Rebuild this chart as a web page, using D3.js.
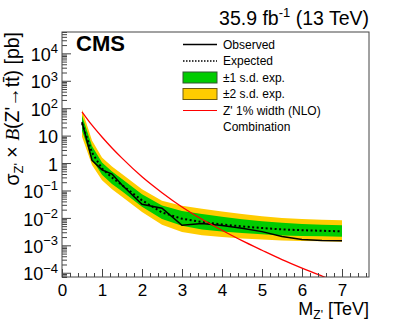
<!DOCTYPE html>
<html><head><meta charset="utf-8">
<script src="https://cdn.jsdelivr.net/npm/d3@7/dist/d3.min.js"></script>
<style>
body{margin:0;background:#fff;}
svg{font-family:"Liberation Sans",Arial,Helvetica,sans-serif;}
</style></head>
<body><svg id="c" width="411" height="326"></svg>
<script>
// ---- data (pb) ----
const masses   = [0.5, 0.75, 1, 1.25, 1.5, 2, 2.5, 3, 3.5, 4, 4.5, 5, 5.5, 6, 6.5, 7];
const observed = [31.6, 1.26, 0.562, 0.398, 0.158, 0.0316, 0.0224, 0.00537, 0.00631, 0.00525, 0.00417, 0.00316, 0.00209, 0.00162, 0.00151, 0.00148];
const expected = [28.2, 2.40, 0.631, 0.295, 0.158, 0.0437, 0.0158, 0.00933, 0.00708, 0.00575, 0.0049, 0.00427, 0.0038, 0.00355, 0.00339, 0.00324];
const plus1    = [53.7, 4.17, 1.05, 0.490, 0.262, 0.0725, 0.0281, 0.0178, 0.0138, 0.0110, 0.00892, 0.00759, 0.00660, 0.00603, 0.00563, 0.00538];
const minus1   = [15.1, 1.38, 0.372, 0.174, 0.0931, 0.0257, 0.00909, 0.00513, 0.00380, 0.00316, 0.00282, 0.00252, 0.00229, 0.00219, 0.00214, 0.00204];
const plus2    = [89.2, 6.61, 1.59, 0.741, 0.397, 0.110, 0.0425, 0.0275, 0.0214, 0.0170, 0.0138, 0.0115, 0.00999, 0.00912, 0.00852, 0.00814];
const minus2   = [9.14, 0.852, 0.235, 0.110, 0.0588, 0.0163, 0.00561, 0.00309, 0.00234, 0.00200, 0.00178, 0.00162, 0.00151, 0.00144, 0.00141, 0.00135];
const theory   = [74.1, 24.0, 8.91, 3.55, 1.51, 0.316, 0.0832, 0.0251, 0.00891, 0.00355, 0.00148, 0.000661, 0.000302, 0.000148, 0.0000759, 0.0000398];
const xTicks = [0, 1, 2, 3, 4, 5, 6, 7];
const yTickExps = [-4, -3, -2, -1, 0, 1, 2, 3, 4];
const legendLabels = ["Observed", "Expected", "±1 s.d. exp.", "±2 s.d. exp.", "Z' 1% width (NLO)", "Combination"];

// ---- layout ----
const L = 62, R = 369, T = 32, B = 277;
const svg = d3.select("#c");
const x = d3.scaleLinear().domain([0, 7.675]).range([L, R]);
const y = d3.scaleLog().domain([7e-5, 6e4]).range([B, T]);

svg.append("defs").append("clipPath").attr("id","clip")
  .append("rect").attr("x",L).attr("y",T).attr("width",R-L).attr("height",B-T);

const g = svg.append("g").attr("clip-path","url(#clip)");
const pts = masses.map((m,i)=>i);

const area = (lo, hi) => d3.area().x(i=>x(masses[i])).y0(i=>y(lo[i])).y1(i=>y(hi[i]));
g.append("path").attr("d", area(minus2, plus2)(pts)).attr("fill","#ffcc00");
g.append("path").attr("d", area(minus1, plus1)(pts)).attr("fill","#00cc00");

const line = arr => d3.line().x(i=>x(masses[i])).y(i=>y(arr[i]));
g.append("path").attr("d", line(expected)(pts)).attr("fill","none")
  .attr("stroke","#000").attr("stroke-width",2).attr("stroke-dasharray","2,2.5");
g.append("path").attr("d", line(observed)(pts)).attr("fill","none")
  .attr("stroke","#000").attr("stroke-width",1.5);
g.append("path").attr("d", line(theory).curve(d3.curveMonotoneX)(pts)).attr("fill","none")
  .attr("stroke","#ff0000").attr("stroke-width",1.3);

// ---- frame ----
svg.append("rect").attr("x",L).attr("y",T).attr("width",R-L).attr("height",B-T)
  .attr("fill","none").attr("stroke","#444").attr("stroke-width",1);

// ---- x axis ----
const xMinor = d3.range(0, 7.61, 0.2);
svg.append("g").attr("transform",`translate(0,${B})`)
  .call(d3.axisBottom(x).tickValues(xMinor).tickSize(-4).tickFormat(""))
  .call(a=>a.select(".domain").remove())
  .selectAll("line").attr("stroke","#444");
const xa = svg.append("g").attr("transform",`translate(0,${B})`)
  .call(d3.axisBottom(x).tickValues(xTicks).tickSize(-8).tickPadding(7).tickFormat(d3.format("d")));
xa.select(".domain").remove();
xa.selectAll("line").attr("stroke","#444");
xa.selectAll("text").attr("font-size",17).attr("fill","#000")
  .attr("font-family","Liberation Sans, Arial, sans-serif");

// ---- y axis ----
const yMinor = [];
for (let e = -5; e <= 4; e++) for (let k = 2; k <= 9; k++) {
  const v = k * Math.pow(10, e);
  if (v >= 7e-5 && v <= 6e4) yMinor.push(v);
}
svg.append("g").attr("transform",`translate(${L},0)`)
  .call(d3.axisLeft(y).tickValues(yMinor).tickSize(-5).tickFormat(""))
  .call(a=>a.select(".domain").remove())
  .selectAll("line").attr("stroke","#444");
const ya = svg.append("g").attr("transform",`translate(${L},0)`)
  .call(d3.axisLeft(y).tickValues(yTickExps.map(e=>Math.pow(10,e))).tickSize(-9).tickPadding(4).tickFormat(""));
ya.select(".domain").remove();
ya.selectAll("line").attr("stroke","#444");
ya.selectAll("text").each(function(d){
  const e = Math.round(Math.log10(d));
  const t = d3.select(this).attr("font-size",18).attr("fill","#000")
    .attr("font-family","Liberation Sans, Arial, sans-serif").attr("dy","0.4em");
  if (e === 0) t.text("1");
  else if (e === 1) t.text("10");
  else {
    t.append("tspan").text("10");
    t.append("tspan").attr("font-size",13).attr("dy","-0.6em")
      .text(e < 0 ? "\u2212" + (-e) : String(e));
  }
});

// ---- titles ----
svg.append("text").attr("x",R).attr("y",25).attr("text-anchor","end").attr("font-size",19.5)
  .call(t=>{
    t.append("tspan").text("35.9 fb");
    t.append("tspan").attr("font-size",13).attr("dy",-8).text("-1");
    t.append("tspan").attr("dy",8).text(" (13 TeV)");
  });
svg.append("text").attr("x",76).attr("y",51).attr("font-size",22).attr("font-weight","bold").text("CMS");

svg.append("text").attr("x",R).attr("y",315).attr("text-anchor","end").attr("font-size",18)
  .call(t=>{
    t.append("tspan").text("M");
    t.append("tspan").attr("font-size",12).attr("dy",4).text("Z'");
    t.append("tspan").attr("dy",-4).text(" [TeV]");
  });

svg.append("text").attr("transform","translate(19,32) rotate(-90)").attr("text-anchor","end").attr("font-size",19.5)
  .call(t=>{
    t.append("tspan").text("σ");
    t.append("tspan").attr("font-size",13).attr("dy",4).text("Z'");
    t.append("tspan").attr("dy",-4).text(" × ");
    t.append("tspan").attr("font-family","Liberation Serif, serif").attr("font-style","italic").text("B");
    t.append("tspan").text("(Z'→t");
    t.append("tspan").text("t̄");
    t.append("tspan").text(") [pb]");
  });

// ---- legend ----
const lx0 = 183, lx1 = 217, ltx = 223, ly0 = 44.5, ldy = 16.5;
const leg = svg.append("g").attr("font-size",12);
legendLabels.forEach((lab,i)=>{
  const yy = ly0 + i*ldy;
  leg.append("text").attr("x",ltx).attr("y",yy).attr("dy","0.36em").text(lab);
});
leg.append("line").attr("x1",lx0).attr("x2",lx1).attr("y1",ly0).attr("y2",ly0).attr("stroke","#000").attr("stroke-width",1.5);
leg.append("line").attr("x1",lx0).attr("x2",lx1).attr("y1",ly0+ldy).attr("y2",ly0+ldy).attr("stroke","#000").attr("stroke-width",1.5).attr("stroke-dasharray","1.5,1.5");
leg.append("rect").attr("x",lx0).attr("y",ly0+2*ldy-5.5).attr("width",lx1-lx0).attr("height",11).attr("fill","#00cc00").attr("stroke","#335533");
leg.append("rect").attr("x",lx0).attr("y",ly0+3*ldy-5.5).attr("width",lx1-lx0).attr("height",11).attr("fill","#ffcc00").attr("stroke","#6e5c10");
leg.append("line").attr("x1",lx0).attr("x2",lx1).attr("y1",ly0+4*ldy).attr("y2",ly0+4*ldy).attr("stroke","#ff0000").attr("stroke-width",1.2);
</script></body></html>
